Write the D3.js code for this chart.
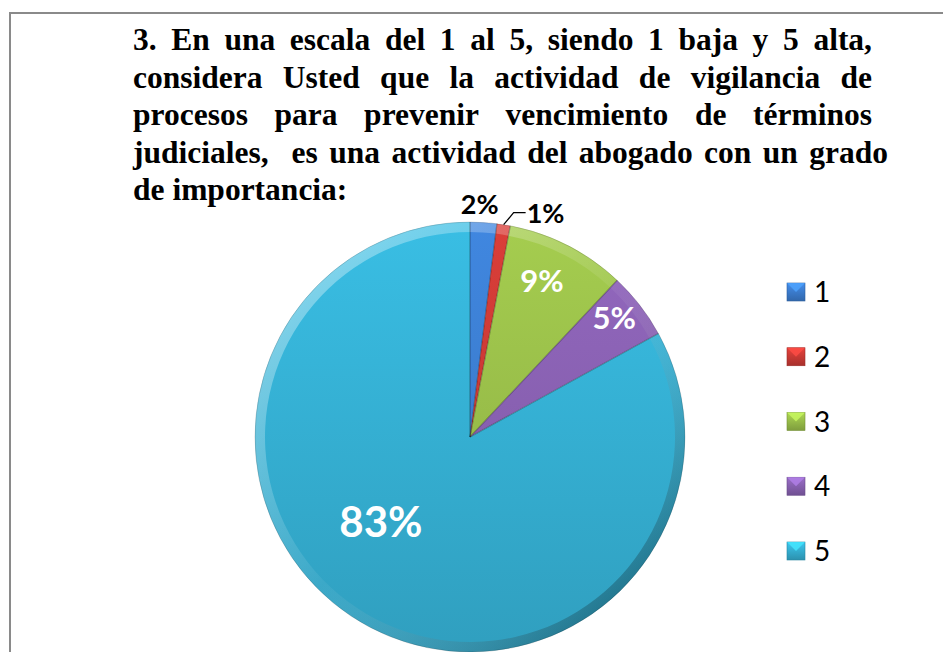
<!DOCTYPE html>
<html><head><meta charset="utf-8">
<script src="https://cdn.jsdelivr.net/npm/d3@7"></script>
<style>body{margin:0;background:#fff;overflow:hidden}</style></head>
<body>
<svg id="c" width="943" height="652"></svg>
<script>
const categories = ["1", "2", "3", "4", "5"];
const values = [2, 1, 9, 5, 83];
const valueLabels = ["2%", "1%", "9%", "5%", "83%"];
const colors = ["#3d80d4", "#cf3b36", "#9cc24b", "#8b63b5", "#36b4d8"];
const titleLines = [
  "3. En una escala del 1 al 5, siendo 1 baja y 5 alta,",
  "considera Usted que la actividad de vigilancia de",
  "procesos para prevenir vencimiento de términos",
  "judiciales,  es una actividad del abogado con un grado",
  "de importancia:"
];

const svg = d3.select("#c");
const defs = svg.append("defs");

// frame
svg.append("rect").attr("x", 10).attr("y", 13).attr("width", 1000).attr("height", 800)
  .attr("fill", "none").attr("stroke", "#8a8a8a").attr("stroke-width", 2);

// title, justified
const title = svg.append("g").attr("font-family", "'Liberation Serif','Times New Roman',serif")
  .attr("font-weight", "bold").attr("font-size", 31.5).attr("fill", "#000");
const leftX = 133;
const rightEdges = [872, 872, 872, 888, null];
titleLines.forEach((line, i) => {
  const y = 50 + i * 37.5;
  const words = line.split(" ");
  const t = title.append("text").attr("y", y);
  if (rightEdges[i] == null) {
    t.attr("x", leftX).text(line);
    return;
  }
  const widths = words.map(w => {
    const tmp = title.append("text").text(w || "");
    const wd = w ? tmp.node().getComputedTextLength() : 0;
    tmp.remove();
    return wd;
  });
  const total = d3.sum(widths);
  const gap = (rightEdges[i] - leftX - total) / (words.length - 1);
  let x = leftX;
  words.forEach((w, j) => {
    if (w) t.append("tspan").attr("x", x).attr("y", y).text(w);
    x += widths[j] + gap;
  });
});

// pie
const cx = 470, cy = 437, R = 215;
const g = svg.append("g").attr("transform", `translate(${cx},${cy})`);
const pie = d3.pie().sort(null).value(d => d).startAngle(0).endAngle(2 * Math.PI);
const arcs = pie(values);
const arc = d3.arc().innerRadius(0).outerRadius(R);

colors.forEach((c, i) => {
  const lg = defs.append("linearGradient").attr("id", "sg" + i)
    .attr("gradientUnits", "userSpaceOnUse")
    .attr("x1", 0).attr("y1", -R).attr("x2", 0).attr("y2", R);
  lg.append("stop").attr("offset", "0%").attr("stop-color", d3.color(c).brighter(0.15));
  lg.append("stop").attr("offset", "100%").attr("stop-color", d3.color(c).darker(0.35));
  const sq = defs.append("linearGradient").attr("id", "lg" + i)
    .attr("x1", 0).attr("y1", 0).attr("x2", 0).attr("y2", 1);
  sq.append("stop").attr("offset", "0%").attr("stop-color", d3.color(c).brighter(0.3));
  sq.append("stop").attr("offset", "100%").attr("stop-color", d3.color(c).darker(0.6));
});

g.selectAll("path.slice").data(arcs).join("path").attr("class", "slice")
  .attr("d", arc).attr("fill", (d, i) => `url(#sg${i})`);

// bevel rim
const rimG = defs.append("linearGradient").attr("id", "rim")
  .attr("gradientUnits", "userSpaceOnUse")
  .attr("x1", -R * 0.7).attr("y1", -R * 0.7).attr("x2", R * 0.7).attr("y2", R * 0.7);
rimG.append("stop").attr("offset", "0%").attr("stop-color", "#fff").attr("stop-opacity", 0.35);
rimG.append("stop").attr("offset", "50%").attr("stop-color", "#fff").attr("stop-opacity", 0.05);
rimG.append("stop").attr("offset", "100%").attr("stop-color", "#000").attr("stop-opacity", 0.25);
const rimArc = d3.arc().innerRadius(R - 10).outerRadius(R);
g.selectAll("path.rim").data(arcs).join("path").attr("class", "rim")
  .attr("d", rimArc).attr("fill", "url(#rim)");

// slice edges
g.selectAll("line.edge").data(arcs).join("line").attr("class", "edge")
  .attr("x1", 0).attr("y1", 0)
  .attr("x2", d => R * Math.sin(d.startAngle)).attr("y2", d => -R * Math.cos(d.startAngle))
  .attr("stroke", "rgba(0,0,0,0.3)").attr("stroke-width", 1.2);
g.append("circle").attr("r", R).attr("fill", "none").attr("stroke", "rgba(0,0,0,0.15)").attr("stroke-width", 1);

// labels
const labelFont = "Lato, 'Open Sans', sans-serif";
arcs.forEach((d, i) => {
  const mid = (d.startAngle + d.endAngle) / 2;
  let x, y, size, fill, anchor = "middle";
  if (i === 0) {
    x = 1.09 * R * Math.sin(mid) - 5; y = -1.09 * R * Math.cos(mid) + 11; size = 27; fill = "#000";
  } else if (i === 1) {
    const px = R * Math.sin(mid), py = -R * Math.cos(mid);
    g.append("polyline").attr("points", `${px},${py} ${px + 10},${py - 12} ${px + 22},${py - 12}`)
      .attr("fill", "none").attr("stroke", "#000").attr("stroke-width", 1.3);
    x = px + 23; y = py - 2; size = 27; fill = "#000"; anchor = "start";
  } else if (i === 4) {
    const a = mid + 0.28;
    x = 0.57 * R * Math.sin(a); y = -0.57 * R * Math.cos(a) + 16; size = 42; fill = "#fff";
  } else {
    const k = i === 2 ? 0.8 : 0.87;
    const a = i === 2 ? mid - 0.04 : mid - 0.03;
    x = k * R * Math.sin(a); y = -k * R * Math.cos(a) + 11; size = 31; fill = "#fff";
  }
  g.append("text").attr("x", x).attr("y", y).attr("text-anchor", anchor)
    .attr("font-family", labelFont).attr("font-weight", "bold").attr("font-size", size)
    .attr("fill", fill).text(valueLabels[i]);
});

// legend
const ly = d3.scalePoint().domain(categories).range([292, 551]);
const leg = svg.append("g");
categories.forEach((c, i) => {
  const y = ly(c), x = 787, s = 18;
  leg.append("rect").attr("x", x).attr("y", y - s / 2).attr("width", s).attr("height", s)
    .attr("fill", `url(#lg${i})`).attr("stroke", d3.color(colors[i]).darker(0.8)).attr("stroke-width", 0.6);
  leg.append("path").attr("d", `M${x},${y - s / 2} L${x + s},${y - s / 2} L${x + s / 2},${y} Z`)
    .attr("fill", d3.color(colors[i]).brighter(0.7)).attr("opacity", 0.8);
  leg.append("text").attr("x", 814).attr("y", y + 10).attr("font-family", labelFont)
    .attr("font-size", 28).attr("fill", "#000").text(c);
});
</script>
</body></html>
